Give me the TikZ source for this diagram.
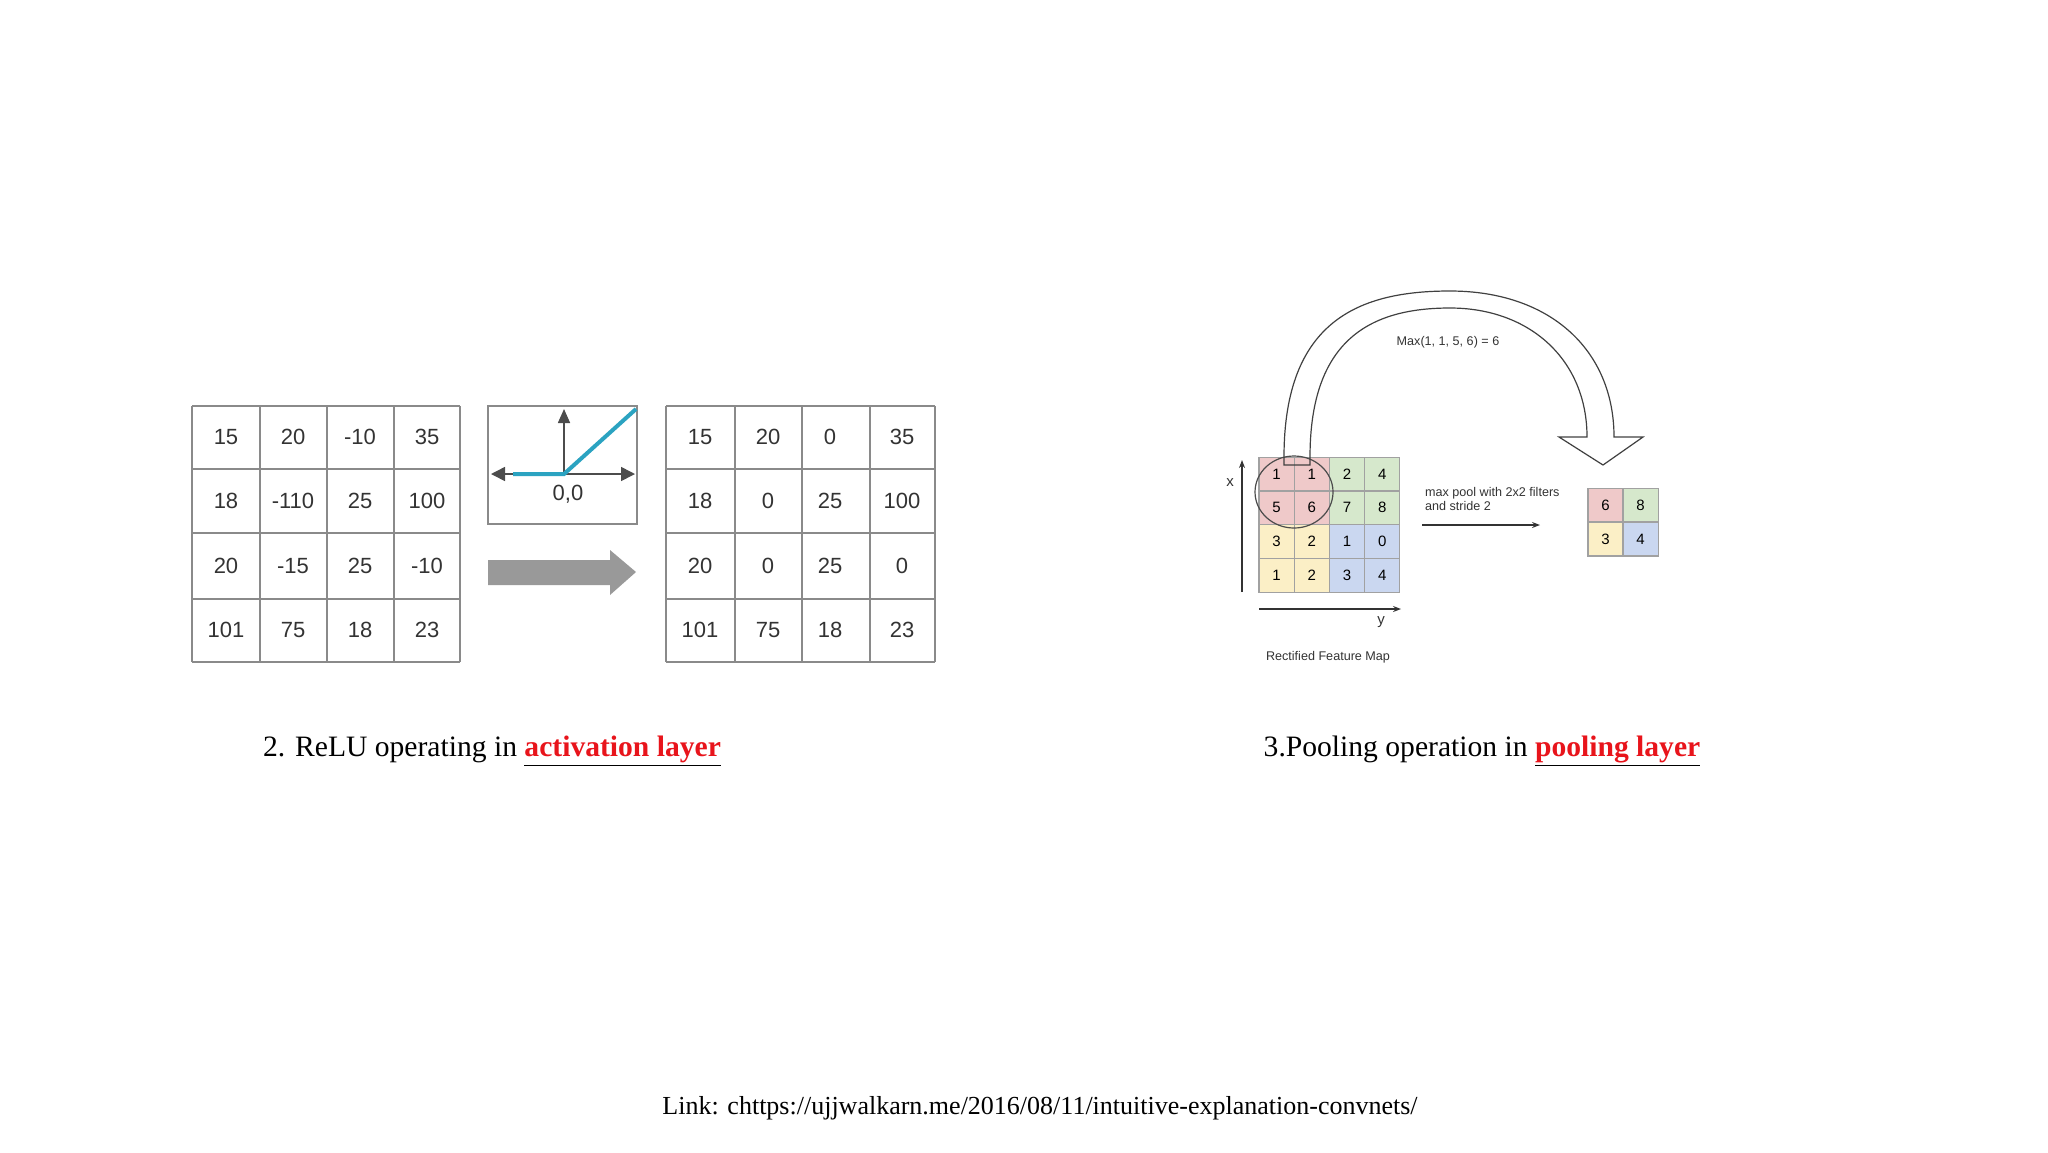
\documentclass[tikz,border=0pt]{standalone}
\usepackage{fontspec}
\setmainfont{Liberation Serif}
\newfontfamily\figsans{Liberation Sans}
\usetikzlibrary{arrows.meta}
\definecolor{cpink}{HTML}{EFC9C9}
\definecolor{cgreen}{HTML}{D6E8CC}
\definecolor{cyel}{HTML}{FBEFC6}
\definecolor{cblue}{HTML}{CAD7F0}
\definecolor{reluc}{HTML}{2BA3C1}
\definecolor{gridc}{HTML}{8A8A8A}
\definecolor{linkred}{HTML}{E8141B}
\tikzset{
 cell/.style={font=\figsans\fontsize{11}{13}\selectfont,text=black!80},
 pcell/.style={draw=gridc!80,line width=0.6pt,minimum width=17.6pt,minimum height=16.9pt,inner sep=0pt,font=\figsans\fontsize{7.5}{8}\selectfont},
 small/.style={font=\figsans\fontsize{6.3}{7}\selectfont,text=black!80},
 captext/.style={font=\fontsize{14.8}{17}\selectfont}
}
\newcommand{\redul}[1]{\underline{\textcolor{linkred}{\textbf{#1}}}}
\begin{document}
\begin{tikzpicture}[x=0.5pt,y=-0.5pt]
\useasboundingbox (0,0) rectangle (2048,1152);
% left grid
\foreach \x in {192,260,327,394,460} \draw[gridc,line width=1pt] (\x,406) -- (\x,662);
\foreach \y in {406,469,533,599,662} \draw[gridc,line width=1pt] (192,\y) -- (460,\y);
\foreach \y/\a/\b/\c/\d [count=\r] in {437/15/20/-10/35,501/18/-110/25/100,566/20/-15/25/-10,630/101/75/18/23}{
 \node[cell] (l\r a) at (226,\y) {\a};
 \node[cell] (l\r b) at (293,\y) {\b};
 \node[cell] (l\r c) at (360,\y) {\c};
 \node[cell] (l\r d) at (427,\y) {\d};}
% right grid
\foreach \x in {666,735,802,870,935} \draw[gridc,line width=1pt] (\x,406) -- (\x,662);
\foreach \y in {406,469,533,599,662} \draw[gridc,line width=1pt] (666,\y) -- (935,\y);
\foreach \y/\a/\b/\c/\d [count=\r] in {437/15/20/0/35,501/18/0/25/100,566/20/0/25/0,630/101/75/18/23}{
 \node[cell] (r\r a) at (700,\y) {\a};
 \node[cell] (r\r b) at (768,\y) {\b};
 \node[cell] (r\r c) at (830,\y) {\c};
 \node[cell] (r\r d) at (902,\y) {\d};}
% relu box
\draw[gridc,line width=1pt] (488,406) rectangle (637,524);
\coordinate (o) at (564,474);
\coordinate (xl) at (491,474); \coordinate (xr) at (635,474); \coordinate (yt) at (564,409);
\draw[black!70,line width=0.8pt,-{Triangle[length=7pt,width=7pt]}] (o) -- (xl);
\draw[black!70,line width=0.8pt,-{Triangle[length=7pt,width=7pt]}] (o) -- (xr);
\draw[black!70,line width=0.8pt,-{Triangle[length=7pt,width=6pt]}] (o) -- (yt);
\draw[reluc,line width=2pt] (513,474) -- (o) -- (636,409);
\node[cell] (zero) at (568,494) {0,0};
% grey arrow
\fill[black!40] (488,560) -- (610,560) -- (610,550) -- (636,572) -- (610,595) -- (610,585) -- (488,585) -- cycle;
% captions
\node[captext] (capl) at (492,751) {2. ReLU operating in \redul{activation layer}};
\node[captext] (capr) at (1482,751) {3.Pooling operation in \redul{pooling layer}};
\node[font=\fontsize{13}{15}\selectfont] (link) at (1040,1108) {Link: chttps://ujjwalkarn.me/2016/08/11/intuitive-explanation-convnets/};
% pooling grid
\foreach \v/\c [count=\i from 0] in {1/cpink,1/cpink,2/cgreen,4/cgreen,5/cpink,6/cpink,7/cgreen,8/cgreen,3/cyel,2/cyel,1/cblue,0/cblue,1/cyel,2/cyel,3/cblue,4/cblue}{
 \pgfmathtruncatemacro\cc{mod(\i,4)}
 \pgfmathtruncatemacro\rr{int(\i/4)}
 \node[pcell,fill=\c] (p\i) at ({1276.6+35.2*\cc},{474+33.8*\rr}) {\v};}
\foreach \v/\c [count=\i from 0] in {6/cpink,8/cgreen,3/cyel,4/cblue}{
 \pgfmathtruncatemacro\cc{mod(\i,2)}
 \pgfmathtruncatemacro\rr{int(\i/2)}
 \node[pcell,fill=\c] (q\i) at ({1605.5+35*\cc},{505+34*\rr}) {\v};}
\draw[black!70,line width=0.6pt] (1294,492) ellipse [x radius=39,y radius=36];
% axes
\coordinate (ax0) at (1242,592); \coordinate (ax1) at (1242,460);
\coordinate (ay0) at (1259,609); \coordinate (ay1) at (1401,609);
\draw[black!80,line width=0.6pt,-{Stealth[length=4pt]}] (ax0) -- (ax1);
\draw[black!80,line width=0.6pt,-{Stealth[length=4pt]}] (ay0) -- (ay1);
\node[small,font=\figsans\fontsize{7.5}{8}\selectfont] (xlab) at (1230,483) {x};
\node[small,font=\figsans\fontsize{7.5}{8}\selectfont] (ylab) at (1381,622) {y};
\node[small] (rfm) at (1328,657) {Rectified Feature Map};
\node[small,align=left,anchor=west,font=\figsans\fontsize{6.3}{7.2}\selectfont] (mp) at (1418,499) {max pool with 2x2 filters\\and stride 2};
\coordinate (m0) at (1422,525); \coordinate (m1) at (1540,525);
\draw[black!80,line width=0.6pt,-{Stealth[length=4pt]}] (m0) -- (m1);
\node[small] (maxlab) at (1448,342) {Max(1, 1, 5, 6) = 6};
% big curved arrow
\draw[black!75,line width=0.6pt] (1284,465) -- (1284,457) .. controls (1284,320) and (1360,291) .. (1450,291)
 .. controls (1550,291) and (1614,350) .. (1614,437) -- (1643,437) -- (1603,465) -- (1559,437) -- (1587,437)
 .. controls (1587,360) and (1530,308) .. (1450,308) .. controls (1370,308) and (1310,340) .. (1310,457) -- (1310,465) -- cycle;
\end{tikzpicture}
\end{document}
